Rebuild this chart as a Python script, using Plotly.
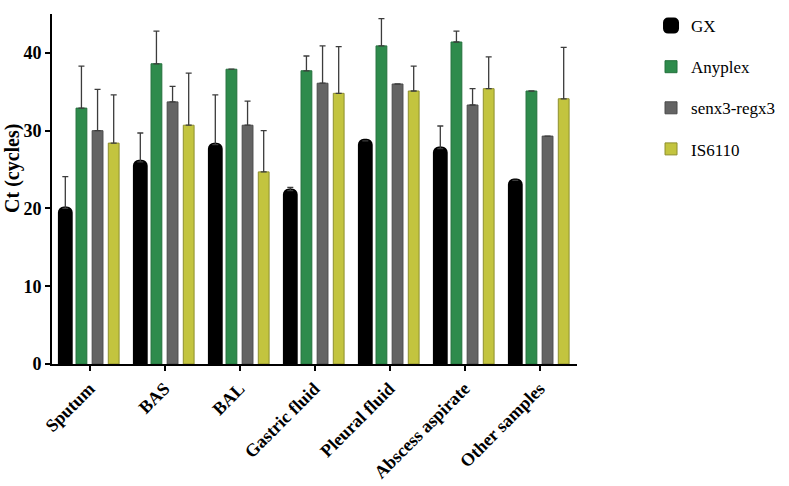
import plotly.graph_objects as go

categories = ["Sputum", "BAS", "BAL", "Gastric fluid", "Pleural fluid", "Abscess aspirate", "Other samples"]
series_names = ["GX", "Anyplex", "senx3-regx3", "IS6110"]

gx = [20.0, 26.0, 28.2, 22.3, 28.7, 27.7, 23.6]
gx_err = [4.1, 3.7, 6.4, 0.4, None, 2.9, None]

anyplex = [32.9, 38.6, 37.9, 37.7, 40.9, 41.4, 35.1]
anyplex_err = [5.4, 4.2, None, 1.9, 3.5, 1.4, None]

senx = [30.0, 33.7, 30.7, 36.1, 36.0, 33.3, 29.3]
senx_err = [5.3, 2.0, 3.1, 4.8, None, 2.1, None]

is6110 = [28.4, 30.7, 24.7, 34.8, 35.1, 35.4, 34.1]
is6110_err = [6.2, 6.7, 5.3, 6.0, 3.2, 4.1, 6.6]

values = [gx, anyplex, senx, is6110]
errors = [gx_err, anyplex_err, senx_err, is6110_err]
fills = ["#000000", "#2E8B4C", "#646464", "#C3C43F"]
outlines = ["#000000", "#23703C", "#4A4A4A", "#8E8F2E"]
line_w = [4, 1, 1, 1]
radius = [4, 0, 0, 0]

font_family = "Liberation Serif, Times New Roman, serif"

fig = go.Figure()
for i, name in enumerate(series_names):
    fig.add_trace(go.Bar(
        x=categories, y=values[i], name=name,
        legendgroup=name,
        marker=dict(color=fills[i], line=dict(color=outlines[i], width=line_w[i]),
                    cornerradius=radius[i]),
        error_y=dict(type="data", array=errors[i], symmetric=False,
                     arrayminus=[0] * len(categories),
                     color="#3C3C3C", thickness=1.3, width=3),
    ))

fig.update_layout(
    width=789, height=486,
    margin=dict(l=52, r=202, t=8, b=122),
    paper_bgcolor="white", plot_bgcolor="white",
    barmode="group", bargap=0.14, bargroupgap=0.33,
    font=dict(family=font_family, color="black"),
    showlegend=True,
    legend=dict(x=1.141, y=1.017, xanchor="left", yanchor="top",
                font=dict(size=17, family=font_family),
                tracegroupgap=16, bgcolor="rgba(0,0,0,0)"),
    xaxis=dict(range=[-0.5, 6.5], showline=True, linecolor="black", linewidth=2,
               ticks="outside", ticklen=5, tickwidth=2, tickcolor="black",
               tickangle=-45, tickfont=dict(size=18, family=font_family, weight="bold"),
               showgrid=False, zeroline=False, automargin=False),
    yaxis=dict(range=[0, 45], showline=True, linecolor="black", linewidth=2,
               ticks="outside", ticklen=5, tickwidth=2, tickcolor="black",
               tickvals=[0, 10, 20, 30, 40],
               tickfont=dict(size=18, family=font_family, weight="bold"),
               showgrid=False, zeroline=False, automargin=False),
    annotations=[dict(text="<b>Ct (cycles)</b>", textangle=-90, xref="paper", yref="paper",
                      x=-0.075, y=0.559, xanchor="center", yanchor="middle",
                      showarrow=False, font=dict(size=20, family=font_family))],
)

fig.write_html("out.html")
